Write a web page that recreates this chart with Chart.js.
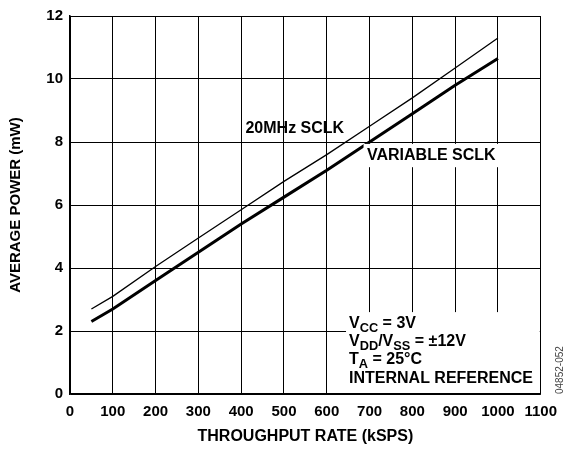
<!DOCTYPE html>
<html lang="en">
<head>
  <meta charset="UTF-8">
  <title>Average Power vs Throughput Rate</title>
  <script src="https://cdn.jsdelivr.net/npm/chart.js"></script>
  <style>
    html, body { margin: 0; padding: 0; background: #fff; }
    #wrap { width: 566px; height: 449px; }
  </style>
</head>
<body>
  <div id="wrap">
    <canvas id="myChart" width="566" height="449"></canvas>
  </div>

  <script>
    // data (kSPS -> mW)
    var rates = [50, 100, 200, 300, 400, 500, 600, 700, 800, 900, 1000];
    var power20MHz = [2.7, 3.1, 4.05, 4.95, 5.85, 6.75, 7.6, 8.5, 9.4, 10.35, 11.3];
    var powerVariable = [2.3, 2.7, 3.6, 4.5, 5.4, 6.25, 7.1, 8.0, 8.9, 9.8, 10.65];
    var xTicks = [0, 100, 200, 300, 400, 500, 600, 700, 800, 900, 1000, 1100];
    var yTicks = [0, 2, 4, 6, 8, 10, 12];

    var FONT = '"Liberation Sans", Arial, sans-serif';

    function pts(xs, ys) {
      return xs.map(function (x, i) { return { x: x, y: ys[i] }; });
    }

    // draws "V" + sub "CC" + " = 3V" style text, parts: [text, isSub]
    function drawParts(ctx, parts, x, y, size) {
      var cx = x;
      parts.forEach(function (p) {
        var s = p[1] ? size * 0.8 : size;
        ctx.font = 'bold ' + s + 'px ' + FONT;
        ctx.fillText(p[0], cx, p[1] ? y + 4 : y);
        cx += ctx.measureText(p[0]).width;
      });
    }

    var notes = {
      id: 'notes',
      afterDatasetsDraw: function (chart) {
        var ctx = chart.ctx;
        var xs = chart.scales.x, ys = chart.scales.y;
        var a = chart.chartArea;
        ctx.save();
        ctx.fillStyle = '#000';
        ctx.textBaseline = 'alphabetic';
        ctx.textAlign = 'left';

        // 20MHz SCLK label
        ctx.font = 'bold 16px ' + FONT;
        ctx.fillText('20MHz SCLK', xs.getPixelForValue(410), ys.getPixelForValue(8.3));

        // VARIABLE SCLK label on white patch
        var vx = xs.getPixelForValue(686), vy = ys.getPixelForValue(7.94);
        ctx.fillStyle = '#fff';
        ctx.fillRect(vx, vy, xs.getPixelForValue(1005) - vx, ys.getPixelForValue(7.2) - vy);
        ctx.fillStyle = '#000';
        ctx.fillText('VARIABLE SCLK', xs.getPixelForValue(694), ys.getPixelForValue(7.42));

        // conditions box, bottom right
        var bx = xs.getPixelForValue(645), by = ys.getPixelForValue(2.6);
        ctx.fillStyle = '#fff';
        ctx.fillRect(bx, by, a.right - 1 - bx, a.bottom - 1 - by);
        ctx.fillStyle = '#000';
        var tx = bx + 3;
        drawParts(ctx, [['V', 0], ['CC', 1], [' = 3V', 0]], tx, by + 16, 16);
        drawParts(ctx, [['V', 0], ['DD', 1], ['/V', 0], ['SS', 1], [' = \u00B112V', 0]], tx, by + 34, 16);
        drawParts(ctx, [['T', 0], ['A', 1], [' = 25\u00B0C', 0]], tx, by + 52, 16);
        drawParts(ctx, [['INTERNAL REFERENCE', 0]], tx, by + 71, 16);

        // figure code at right edge
        ctx.translate(563, 394);
        ctx.rotate(-Math.PI / 2);
        ctx.font = '10px ' + FONT;
        ctx.fillStyle = '#444';
        ctx.fillText('04852-052', 0, 0);
        ctx.restore();
      }
    };

    var ctx = document.getElementById('myChart').getContext('2d');
    var myChart = new Chart(ctx, {
      type: 'line',
      data: {
        datasets: [{
          label: '20MHz SCLK',
          data: pts(rates, power20MHz),
          borderColor: '#000',
          borderWidth: 1.3,
          pointRadius: 0,
          tension: 0
        }, {
          label: 'VARIABLE SCLK',
          data: pts(rates, powerVariable),
          borderColor: '#000',
          borderWidth: 3,
          pointRadius: 0,
          tension: 0
        }]
      },
      options: {
        responsive: false,
        animation: false,
        layout: { padding: { top: 14, right: 17, left: 0, bottom: 0 } },
        plugins: { legend: { display: false }, tooltip: { enabled: false } },
        scales: {
          x: {
            type: 'linear',
            min: 0,
            max: 1100,
            afterBuildTicks: function (s) { s.ticks = xTicks.map(function (v) { return { value: v }; }); },
            afterFit: function (s) { s.height = 55; },
            grid: { color: '#000', lineWidth: 1, drawTicks: false },
            border: { color: '#000', width: 1.5 },
            ticks: { color: '#000', padding: 9, maxRotation: 0, font: { family: FONT, size: 15, weight: 'bold' },
              callback: function (v) { return String(v); } },
            title: { display: true, text: 'THROUGHPUT RATE (kSPS)', color: '#000', padding: { top: 0, bottom: 3 }, font: { family: FONT, size: 16, weight: 'bold' } }
          },
          y: {
            min: 0,
            max: 12,
            afterBuildTicks: function (s) { s.ticks = yTicks.map(function (v) { return { value: v }; }); },
            afterFit: function (s) { s.width = 70; },
            grid: { color: '#000', lineWidth: 1, drawTicks: false },
            border: { color: '#000', width: 1.5 },
            ticks: { color: '#000', padding: 7, font: { family: FONT, size: 15, weight: 'bold' } },
            title: { display: true, text: 'AVERAGE POWER (mW)', color: '#000', padding: { top: 7, bottom: 0 }, font: { family: FONT, size: 15, weight: 'bold' } }
          }
        }
      },
      plugins: [notes]
    });
  </script>
</body>
</html>
